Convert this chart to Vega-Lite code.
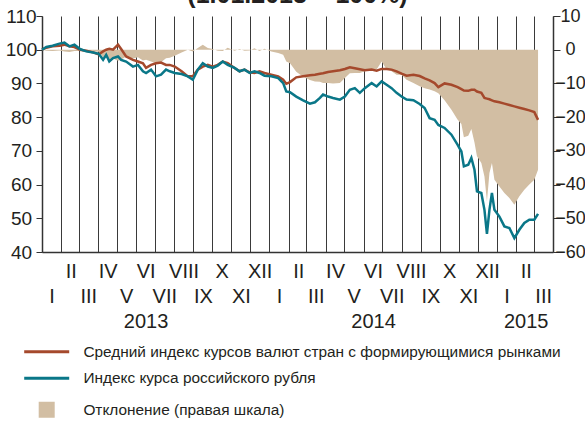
{
  "$schema": "https://vega.github.io/schema/vega-lite/v6.json",
  "width": 511,
  "height": 236,
  "autosize": {"type": "none"},
  "padding": {"left": 42, "top": 16, "right": 32, "bottom": 169},
  "background": "white",
  "title": {"text": "(1.01.2013 = 100%)", "font": "Liberation Sans", "fontSize": 25, "fontWeight": "bold", "color": "#231f20", "anchor": "middle", "offset": -1},
  "config": {
    "view": {"stroke": null},
    "font": "Liberation Sans",
    "axis": {"labelColor": "#231f20", "domainColor": "#333333", "tickColor": "#333333", "labelFont": "Liberation Sans"},
    "legend": {"labelFont": "Liberation Sans"}
  },
  "data": {"values": [
    {"d": "2013-01-01", "em": 100.0, "rub": 100.0, "dev": 0.0},
    {"d": "2013-01-08", "em": 100.6, "rub": 100.8, "dev": -0.3},
    {"d": "2013-01-18", "em": 101.0, "rub": 101.2, "dev": -0.4},
    {"d": "2013-01-29", "em": 101.2, "rub": 101.8, "dev": -0.2},
    {"d": "2013-02-06", "em": 101.5, "rub": 102.1, "dev": -0.5},
    {"d": "2013-02-14", "em": 101.0, "rub": 101.0, "dev": -0.7},
    {"d": "2013-02-22", "em": 100.8, "rub": 101.5, "dev": -0.4},
    {"d": "2013-03-03", "em": 100.0, "rub": 100.2, "dev": -0.4},
    {"d": "2013-03-13", "em": 99.7, "rub": 99.5, "dev": -0.6},
    {"d": "2013-03-24", "em": 99.2, "rub": 99.2, "dev": -0.5},
    {"d": "2013-04-02", "em": 98.6, "rub": 98.8, "dev": -0.6},
    {"d": "2013-04-09", "em": 99.5, "rub": 97.0, "dev": -2.3},
    {"d": "2013-04-14", "em": 100.0, "rub": 98.5, "dev": -1.6},
    {"d": "2013-04-19", "em": 100.3, "rub": 96.5, "dev": -3.2},
    {"d": "2013-04-25", "em": 100.0, "rub": 97.5, "dev": -2.6},
    {"d": "2013-05-03", "em": 101.5, "rub": 98.0, "dev": -3.3},
    {"d": "2013-05-08", "em": 100.2, "rub": 97.0, "dev": -3.0},
    {"d": "2013-05-16", "em": 98.0, "rub": 96.5, "dev": -2.0},
    {"d": "2013-05-27", "em": 97.0, "rub": 95.0, "dev": -2.6},
    {"d": "2013-06-04", "em": 96.5, "rub": 95.5, "dev": -2.2},
    {"d": "2013-06-12", "em": 96.0, "rub": 93.6, "dev": -3.2},
    {"d": "2013-06-17", "em": 94.6, "rub": 93.1, "dev": -3.0},
    {"d": "2013-06-25", "em": 95.5, "rub": 94.1, "dev": -3.5},
    {"d": "2013-07-03", "em": 96.0, "rub": 92.1, "dev": -4.1},
    {"d": "2013-07-11", "em": 96.2, "rub": 92.6, "dev": -3.7},
    {"d": "2013-07-19", "em": 95.5, "rub": 94.1, "dev": -2.5},
    {"d": "2013-07-25", "em": 95.5, "rub": 93.6, "dev": -2.4},
    {"d": "2013-08-02", "em": 95.0, "rub": 93.1, "dev": -1.8},
    {"d": "2013-08-13", "em": 93.6, "rub": 92.8, "dev": -0.8},
    {"d": "2013-08-23", "em": 92.1, "rub": 92.1, "dev": 0.0},
    {"d": "2013-08-31", "em": 92.1, "rub": 91.1, "dev": -0.5},
    {"d": "2013-09-08", "em": 94.1, "rub": 94.1, "dev": 0.5},
    {"d": "2013-09-16", "em": 95.0, "rub": 96.0, "dev": 1.5},
    {"d": "2013-09-24", "em": 95.5, "rub": 95.0, "dev": 0.5},
    {"d": "2013-10-02", "em": 95.0, "rub": 94.6, "dev": 0.2},
    {"d": "2013-10-10", "em": 95.5, "rub": 95.3, "dev": -0.3},
    {"d": "2013-10-18", "em": 96.5, "rub": 96.5, "dev": -0.4},
    {"d": "2013-10-26", "em": 96.0, "rub": 95.5, "dev": 0.6},
    {"d": "2013-11-06", "em": 94.6, "rub": 94.6, "dev": -0.3},
    {"d": "2013-11-14", "em": 93.6, "rub": 93.6, "dev": 0.2},
    {"d": "2013-11-22", "em": 94.1, "rub": 94.1, "dev": -0.3},
    {"d": "2013-11-30", "em": 93.3, "rub": 93.1, "dev": -0.2},
    {"d": "2013-12-08", "em": 93.1, "rub": 93.6, "dev": 0.4},
    {"d": "2013-12-16", "em": 93.6, "rub": 93.1, "dev": -0.4},
    {"d": "2013-12-24", "em": 93.1, "rub": 92.3, "dev": 0.3},
    {"d": "2014-01-04", "em": 92.6, "rub": 92.1, "dev": -0.5},
    {"d": "2014-01-15", "em": 92.1, "rub": 91.6, "dev": -1.0},
    {"d": "2014-01-23", "em": 91.1, "rub": 90.1, "dev": -1.5},
    {"d": "2014-01-28", "em": 89.9, "rub": 87.6, "dev": -3.5},
    {"d": "2014-02-03", "em": 90.4, "rub": 87.4, "dev": -4.0},
    {"d": "2014-02-13", "em": 91.8, "rub": 86.1, "dev": -6.5},
    {"d": "2014-02-24", "em": 92.1, "rub": 85.0, "dev": -8.0},
    {"d": "2014-03-07", "em": 92.4, "rub": 84.0, "dev": -9.0},
    {"d": "2014-03-15", "em": 92.6, "rub": 84.4, "dev": -9.4},
    {"d": "2014-03-23", "em": 92.9, "rub": 85.7, "dev": -9.5},
    {"d": "2014-03-28", "em": 93.0, "rub": 86.7, "dev": -9.9},
    {"d": "2014-04-05", "em": 93.4, "rub": 86.1, "dev": -9.9},
    {"d": "2014-04-13", "em": 93.6, "rub": 85.7, "dev": -10.0},
    {"d": "2014-04-24", "em": 93.9, "rub": 85.2, "dev": -9.9},
    {"d": "2014-05-02", "em": 94.3, "rub": 86.1, "dev": -8.4},
    {"d": "2014-05-10", "em": 94.8, "rub": 88.1, "dev": -7.0},
    {"d": "2014-05-18", "em": 94.5, "rub": 88.6, "dev": -6.9},
    {"d": "2014-05-26", "em": 94.2, "rub": 87.2, "dev": -6.9},
    {"d": "2014-06-03", "em": 93.9, "rub": 88.6, "dev": -6.4},
    {"d": "2014-06-14", "em": 94.1, "rub": 90.1, "dev": -5.9},
    {"d": "2014-06-22", "em": 93.8, "rub": 89.1, "dev": -5.9},
    {"d": "2014-06-30", "em": 94.3, "rub": 90.6, "dev": -3.5},
    {"d": "2014-07-08", "em": 94.3, "rub": 89.6, "dev": -5.9},
    {"d": "2014-07-16", "em": 94.1, "rub": 88.6, "dev": -6.4},
    {"d": "2014-07-24", "em": 93.6, "rub": 87.2, "dev": -7.4},
    {"d": "2014-08-01", "em": 92.9, "rub": 86.1, "dev": -7.4},
    {"d": "2014-08-09", "em": 92.3, "rub": 85.2, "dev": -8.9},
    {"d": "2014-08-20", "em": 92.6, "rub": 85.0, "dev": -9.9},
    {"d": "2014-08-30", "em": 92.2, "rub": 83.9, "dev": -10.8},
    {"d": "2014-09-07", "em": 91.5, "rub": 82.7, "dev": -11.4},
    {"d": "2014-09-15", "em": 90.9, "rub": 79.7, "dev": -11.8},
    {"d": "2014-09-23", "em": 90.1, "rub": 79.2, "dev": -12.3},
    {"d": "2014-09-29", "em": 88.9, "rub": 77.7, "dev": -12.9},
    {"d": "2014-10-09", "em": 90.0, "rub": 76.8, "dev": -15.0},
    {"d": "2014-10-20", "em": 89.6, "rub": 74.8, "dev": -17.8},
    {"d": "2014-10-30", "em": 88.9, "rub": 71.8, "dev": -20.8},
    {"d": "2014-11-05", "em": 88.3, "rub": 69.8, "dev": -22.0},
    {"d": "2014-11-09", "em": 87.9, "rub": 65.4, "dev": -26.0},
    {"d": "2014-11-16", "em": 87.8, "rub": 65.9, "dev": -25.5},
    {"d": "2014-11-21", "em": 88.1, "rub": 67.9, "dev": -23.5},
    {"d": "2014-11-26", "em": 88.1, "rub": 64.4, "dev": -27.5},
    {"d": "2014-11-30", "em": 87.6, "rub": 58.0, "dev": -31.6},
    {"d": "2014-12-07", "em": 87.2, "rub": 57.5, "dev": -33.6},
    {"d": "2014-12-12", "em": 85.7, "rub": 52.5, "dev": -37.6},
    {"d": "2014-12-16", "em": 85.5, "rub": 45.4, "dev": -45.0},
    {"d": "2014-12-20", "em": 85.3, "rub": 52.5, "dev": -36.6},
    {"d": "2014-12-24", "em": 85.0, "rub": 57.5, "dev": -33.6},
    {"d": "2014-12-28", "em": 84.7, "rub": 52.5, "dev": -38.6},
    {"d": "2015-01-05", "em": 84.4, "rub": 50.5, "dev": -40.6},
    {"d": "2015-01-13", "em": 84.0, "rub": 47.6, "dev": -42.5},
    {"d": "2015-01-21", "em": 83.6, "rub": 47.1, "dev": -44.0},
    {"d": "2015-01-29", "em": 83.2, "rub": 44.1, "dev": -46.0},
    {"d": "2015-02-06", "em": 82.8, "rub": 46.6, "dev": -43.5},
    {"d": "2015-02-14", "em": 82.4, "rub": 48.6, "dev": -41.5},
    {"d": "2015-02-22", "em": 82.0, "rub": 49.6, "dev": -40.0},
    {"d": "2015-03-02", "em": 81.5, "rub": 49.6, "dev": -38.6},
    {"d": "2015-03-08", "em": 79.2, "rub": 51.3, "dev": -35.6}
  ]},
  "encoding": {
    "x": {
      "field": "d", "type": "temporal",
      "scale": {"type": "utc", "domain": [{"year": 2013, "month": 1, "date": 1, "utc": true}, {"year": 2015, "month": 4, "date": 1, "utc": true}], "nice": false},
      "axis": {
        "orient": "bottom", "title": null,
        "tickCount": {"interval": "month", "step": 1},
        "grid": true, "gridColor": "#3a3a3a", "gridWidth": 1, "gridOpacity": 1,
        "ticks": false, "domain": true, "domainWidth": 1.5,
        "labelOffset": 9.5, "labelPadding": 9, "labelFontSize": 20, "labelLineHeight": 25,
        "labelOverlap": false, "labelFlush": false, "labelBound": false,
        "labelAlign": "center", "labelBaseline": "top",
        "labelExpr": "(utcyear(datum.value) == 2015 && utcmonth(datum.value) > 2) ? '' : (utcmonth(datum.value) == 5 || (utcyear(datum.value) == 2015 && utcmonth(datum.value) == 1)) ? [['I','II','III','IV','V','VI','VII','VIII','IX','X','XI','XII'][utcmonth(datum.value)], '\u2800', '' + utcyear(datum.value)] : utcmonth(datum.value) % 2 == 1 ? ['I','II','III','IV','V','VI','VII','VIII','IX','X','XI','XII'][utcmonth(datum.value)] : ['\u2800', ['I','II','III','IV','V','VI','VII','VIII','IX','X','XI','XII'][utcmonth(datum.value)]]"
      }
    }
  },
  "layer": [
    {
      "mark": {"type": "area", "opacity": 1, "interpolate": "linear"},
      "encoding": {
        "y": {"field": "dev", "type": "quantitative",
          "scale": {"domain": [-60, 10], "nice": false, "zero": false},
          "axis": {"orient": "right", "title": null, "values": [-60, -50, -40, -30, -20, -10, 0, 10], "grid": false,
            "tickSize": 7, "labelPadding": 10, "labelAlign": "center", "labelBaseline": "middle", "labelFontSize": 18, "domainWidth": 1.5}},
        "y2": {"datum": 0},
        "color": {"datum": "dev", "type": "nominal",
          "scale": {"domain": ["em", "rub", "dev"], "range": ["#a5492c", "#0a7788", "#d2bea3"]},
          "legend": {
            "orient": "none", "legendX": -3, "legendY": 328, "title": null, "direction": "vertical", "columns": 1,
            "padding": 0, "offset": 0, "labelLimit": 0,
            "labelFont": "Liberation Sans", "labelFontSize": 15.4, "labelColor": "#231f20",
            "symbolSize": 144, "labelOffset": 29, "rowPadding": 9.5, "symbolStrokeWidth": 3, "symbolType": "M-3.75,0H3.75",
            "labelExpr": "datum.value == 'em' ? 'Средний индекс курсов валют стран с формирующимися рынками' : datum.value == 'rub' ? 'Индекс курса российского рубля' : 'Отклонение (правая шкала)'",
            "encode": {"symbols": {"update": {
              "shape": {"signal": "datum.value == 'dev' ? 'square' : 'M-3.75,0H3.75'"},
              "size": {"signal": "datum.value == 'dev' ? 169 : 144"},
              "fill": {"signal": "datum.value == 'dev' ? '#d2bea3' : 'transparent'"},
              "stroke": {"signal": "datum.value == 'em' ? '#a5492c' : datum.value == 'rub' ? '#0a7788' : 'transparent'"},
              "strokeWidth": {"value": 3},
              "opacity": {"value": 1}
            }}}
          }
        }
      }
    },
    {
      "transform": [{"fold": ["em", "rub"], "as": ["series", "value"]}],
      "mark": {"type": "line", "strokeWidth": 2.5, "interpolate": "linear"},
      "encoding": {
        "y": {"field": "value", "type": "quantitative",
          "scale": {"domain": [40, 110], "nice": false, "zero": false},
          "axis": {"orient": "left", "title": null, "values": [40, 50, 60, 70, 80, 90, 100, 110], "grid": false,
            "tickSize": 6, "labelPadding": 15, "labelAlign": "center", "labelBaseline": "middle", "labelFontSize": 19, "domainWidth": 1.5}},
        "color": {"field": "series", "type": "nominal",
          "scale": {"domain": ["em", "rub", "dev"], "range": ["#a5492c", "#0a7788", "#d2bea3"]},
          "legend": {
            "orient": "none", "legendX": -3, "legendY": 328, "title": null, "direction": "vertical", "columns": 1,
            "padding": 0, "offset": 0, "labelLimit": 0,
            "labelFont": "Liberation Sans", "labelFontSize": 15.4, "labelColor": "#231f20",
            "symbolSize": 144, "labelOffset": 29, "rowPadding": 9.5, "symbolStrokeWidth": 3, "symbolType": "M-3.75,0H3.75",
            "labelExpr": "datum.value == 'em' ? 'Средний индекс курсов валют стран с формирующимися рынками' : datum.value == 'rub' ? 'Индекс курса российского рубля' : 'Отклонение (правая шкала)'",
            "encode": {"symbols": {"update": {
              "shape": {"signal": "datum.value == 'dev' ? 'square' : 'M-3.75,0H3.75'"},
              "size": {"signal": "datum.value == 'dev' ? 169 : 144"},
              "fill": {"signal": "datum.value == 'dev' ? '#d2bea3' : 'transparent'"},
              "stroke": {"signal": "datum.value == 'em' ? '#a5492c' : datum.value == 'rub' ? '#0a7788' : 'transparent'"},
              "strokeWidth": {"value": 3},
              "opacity": {"value": 1}
            }}}
          }
        },
        "detail": {"field": "series"}
      }
    }
  ],
  "resolve": {"scale": {"y": "independent"}}
}
